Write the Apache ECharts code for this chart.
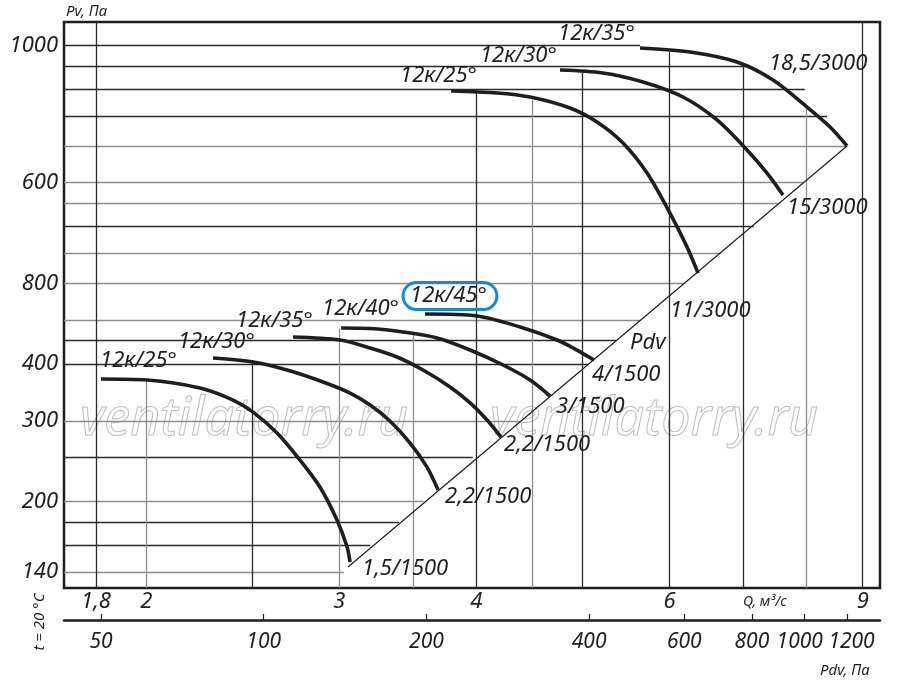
<!DOCTYPE html>
<html>
<head>
<meta charset="utf-8">
<script src="https://cdn.jsdelivr.net/npm/echarts@6/dist/echarts.min.js"></script>
<style>
  html, body { margin: 0; background: #fff; }
  #main { width: 900px; height: 682px; }
</style>
</head>
<body>
<div id="main"></div>
<script>
// Q axis, m3/s
var qTicks = [1.8, 2, 3, 4, 6, 9];
// Pv axis: where the ticks sit and the text printed beside them
var pvTicks = [140, 200, 300, 400, 600, 1000, 2000];
var pvTickText = ['140', '200', '300', '400', '800', '600', '1000'];
// Pdv axis, Pa
var pdvTicks = [50, 100, 200, 400, 600, 800, 1000, 1200];

// fan curves [Q, Pv], 1500 rpm
var low25 = [[1.819, 370.8], [2.004, 369.0], [2.239, 354.4], [2.400, 333.5], [2.503, 313.8], [2.632, 282.3], [2.762, 246.3], [2.880, 214.9], [2.985, 181.9], [3.049, 158.8], [3.068, 147.2]];
var low30 = [[2.301, 412.3], [2.503, 404.1], [2.688, 388.0], [2.899, 365.3], [3.068, 345.5], [3.200, 325.2], [3.336, 300.0], [3.480, 268.4], [3.606, 237.7], [3.691, 211.7]];
var low35 = [[2.722, 458.4], [3.004, 451.5], [3.200, 433.7], [3.386, 414.4], [3.576, 388.0], [3.785, 356.1], [3.947, 328.6], [4.090, 301.4], [4.212, 276.6]];
var low40 = [[3.011, 479.8], [3.200, 478.5], [3.429, 470.1], [3.683, 456.1], [3.947, 429.3], [4.230, 398.0], [4.477, 369.0], [4.669, 340.3]];
var low45 = [[3.591, 514.8], [4.006, 509.7], [4.384, 482.2], [4.739, 451.5], [4.920, 431.4], [5.120, 408.2]];
// fan curves [Q, Pv], 3000 rpm
var high25 = [[3.793, 1588], [4.177, 1572], [4.477, 1540], [4.868, 1457], [5.152, 1358], [5.441, 1221], [5.723, 1049], [6.005, 857], [6.224, 722], [6.369, 633]];
var high30 = [[4.767, 1765], [5.217, 1739], [5.675, 1661], [6.171, 1540], [6.628, 1372], [7.059, 1179], [7.362, 1049], [7.613, 939]];
var high35 = [[5.639, 1973], [6.263, 1933], [6.912, 1838], [7.455, 1678], [8.007, 1464], [8.403, 1324], [8.708, 1203]];

var curveData = [low25, low30, low35, low40, low45, high25, high30, high35];
var curveNames = ['12к/25°', '12к/30°', '12к/35°', '12к/40°', '12к/45°', '12к/25°', '12к/30°', '12к/35°'];
var motorText = ['1,5/1500', '2,2/1500', '2,2/1500', '3/1500', '4/1500', '11/3000', '15/3000', '18,5/3000'];

// system line Pdv through the curve ends
var pdvLine = [[3.055, 143.5], [8.708, 1203]];

// grid lines: horizontal ones at Pv running to Q end, vertical ones at Q running up to Pv top
var hGridP = [2000, 1800, 1600, 1400, 1200, 1000, 900, 800, 700, 600, 500, 450, 400, 300, 250, 200, 180, 160, 140];
var hGridQEnd = [5.64, 7.06, 7.97, 8.35, 8.71, 7.95, 7.55, 7.16, 6.68, 6.18, 5.64, 5.36, 5.06, 4.38, 3.97, 3.58, 3.40, 3.20, 3.03];
var vGridQ = [1.8, 2, 2.5, 3, 3.5, 4, 4.5, 5, 6, 7, 8, 9];
var vGridPTop = [2249, 371, 408, 479, 463, 1575, 1518, 1740, 1933, 1807, 1480, 2249];

// ---- styling ----
var Q_MIN = 1.683, Q_MAX = 9.332, P_MIN = 129.1, P_MAX = 2249;
var PDV_MIN = 42.71, PDV_MAX = 1381;
var INK = '#1e1e1e', DARK = '#2b2b2b', GRAY = '#8d8d8d';
var FONT = '"Noto Sans", "DejaVu Sans", sans-serif';
var hDark = [1, 1, 1, 1, 0, 0, 0, 1, 0, 0, 0, 1, 1, 0, 1, 0, 1, 1, 0];
var vDark = [1, 0, 1, 0, 0, 1, 0, 1, 1, 1, 0, 1];
var nameOffset = [[-1, -18], [-35, -16], [-57, -16], [-19, -19], [-22, -18], [-51, -15], [-80, -14], [-82, -14]];
var motorOffset = [[12, 7], [7, 7], [3, 8], [6, 11], [-2, 15], [-28, 38], [4, 13], [32, 2]];
var motorAt = [null, null, null, null, null, null, null, 2];

var labelBase = { show: true, color: INK, fontFamily: FONT, fontStyle: 'italic', fontSize: 22, align: 'left', verticalAlign: 'middle' };
var tickFont = { color: INK, fontFamily: FONT, fontStyle: 'italic', fontSize: 21 };

var gridLines = [];
hGridP.forEach(function (p, i) {
  gridLines.push({ coords: [[Q_MIN, p], [hGridQEnd[i], p]], lineStyle: { color: hDark[i] ? DARK : GRAY } });
});
vGridQ.forEach(function (q, i) {
  gridLines.push({ coords: [[q, P_MIN], [q, vGridPTop[i]]], lineStyle: { color: vDark[i] ? DARK : GRAY } });
});

var series = [{
  type: 'lines', coordinateSystem: 'cartesian2d', xAxisIndex: 0, yAxisIndex: 0,
  silent: true, z: 1, lineStyle: { width: 1.3, opacity: 1 }, data: gridLines
}, {
  type: 'line', xAxisIndex: 0, yAxisIndex: 0, silent: true, z: 2, showSymbol: false,
  lineStyle: { color: INK, width: 1.2 }, data: pdvLine
}];

curveData.forEach(function (d, i) {
  var mi = motorAt[i] == null ? d.length - 1 : motorAt[i];
  var data = d.map(function (pt, j) {
    var item = { value: pt };
    if (j === 0) {
      item.label = Object.assign({}, labelBase, { formatter: curveNames[i], position: nameOffset[i] });
      if (i === 4) {
        Object.assign(item.label, { borderColor: '#1689d6', borderWidth: 3, borderRadius: 14, padding: [3, 10, 2, 7] });
      }
    } else if (j === mi) {
      item.label = Object.assign({}, labelBase, { formatter: motorText[i], position: motorOffset[i] });
    }
    return item;
  });
  series.push({
    type: 'line', xAxisIndex: 0, yAxisIndex: 0, silent: true, z: 3,
    smooth: 0.3, symbol: 'circle', symbolSize: 0, showSymbol: true,
    itemStyle: { color: INK }, lineStyle: { color: INK, width: 3.6, cap: 'butt' },
    data: data
  });
});

function txt(text, x, y, size, extra) {
  return Object.assign({
    type: 'text', x: x, y: y, silent: true, z: 10,
    style: { text: text, fill: INK, font: 'italic ' + size + 'px ' + FONT, align: 'left', verticalAlign: 'middle' }
  }, extra || {});
}

// the 1000 and 1200 labels sit very close; an empty end slot keeps the
// min/max overlap check from dropping either of them
var pdvLabelSlots = pdvTicks.concat([PDV_MAX * 0.995]);

var chart = echarts.init(document.getElementById('main'));
chart.setOption({
  animation: false,
  backgroundColor: '#fff',
  grid: [
    { left: 64, right: 20, top: 22, bottom: 94, show: true, borderColor: INK, borderWidth: 2.5, backgroundColor: '#fff' },
    { left: 64, right: 20, top: 618, height: 2 }
  ],
  xAxis: [{
    type: 'log', gridIndex: 0, min: Q_MIN, max: Q_MAX, logBase: 10,
    axisLine: { show: false }, axisTick: { show: false }, splitLine: { show: false }, minorTick: { show: false },
    axisLabel: {
      customValues: qTicks, margin: 3, color: INK, fontFamily: FONT, fontStyle: 'italic', fontSize: 22, hideOverlap: false,
      formatter: function (v) { return String(Math.round(v * 10) / 10).replace('.', ','); }
    }
  }, {
    type: 'log', gridIndex: 1, min: PDV_MIN, max: PDV_MAX, logBase: 10,
    axisLine: { show: true, lineStyle: { color: INK, width: 2.5 } },
    axisTick: { show: true, inside: true, length: 6, customValues: pdvTicks, lineStyle: { color: INK, width: 1.2 } },
    splitLine: { show: false },
    axisLabel: Object.assign({
      customValues: pdvLabelSlots, margin: 12, hideOverlap: false,
      rich: {
        l: Object.assign({ padding: [0, 9, 0, 0] }, tickFont),
        r: Object.assign({ padding: [0, 0, 0, 9] }, tickFont)
      },
      formatter: function (v) {
        var r = Math.round(v);
        if (pdvTicks.indexOf(r) < 0) return '';
        if (r === 1000) return '{l|1000}';
        if (r === 1200) return '{r|1200}';
        return String(r);
      }
    }, tickFont)
  }],
  yAxis: [{
    type: 'log', gridIndex: 0, min: P_MIN, max: P_MAX, logBase: 10,
    axisLine: { show: false }, axisTick: { show: false }, splitLine: { show: false },
    axisLabel: {
      customValues: pvTicks, margin: 6, color: INK, fontFamily: FONT, fontStyle: 'italic', fontSize: 22, hideOverlap: false,
      formatter: function (v) {
        var k = pvTicks.indexOf(Math.round(v));
        return k < 0 ? '' : pvTickText[k];
      }
    }
  }, {
    type: 'value', gridIndex: 1, show: false
  }],
  graphic: [
    { type: 'text', x: 80, y: 420, silent: true, z: 0,
      style: { text: 'ventilatorry.ru', fill: 'rgba(255,255,255,0)', stroke: '#bdbdbd', lineWidth: 1, font: 'italic 52px ' + FONT, align: 'left', verticalAlign: 'middle' } },
    { type: 'text', x: 490, y: 420, silent: true, z: 0,
      style: { text: 'ventilatorry.ru', fill: 'rgba(255,255,255,0)', stroke: '#bdbdbd', lineWidth: 1, font: 'italic 52px ' + FONT, align: 'left', verticalAlign: 'middle' } },
    txt('Pv, Па', 66, 12, 15),
    txt('Q, м³/с', 743, 602, 14),
    txt('Pdv, Па', 820, 671, 15),
    txt('Pdv', 630, 343, 22),
    txt('t = 20 °C', 40, 622, 15, { rotation: Math.PI / 2, style: { text: 't = 20 °C', fill: INK, font: 'italic 15px ' + FONT, align: 'center', verticalAlign: 'middle' } })
  ],
  series: series
});
</script>
</body>
</html>
